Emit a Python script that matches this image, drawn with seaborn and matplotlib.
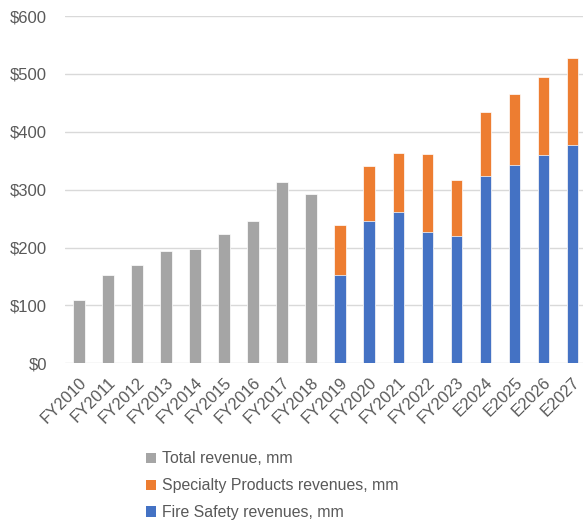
import matplotlib
matplotlib.use("Agg")
import matplotlib.pyplot as plt
import seaborn as sns
import numpy as np
import pandas as pd
from matplotlib.patches import Patch
from matplotlib.ticker import FuncFormatter

categories = ["FY2010", "FY2011", "FY2012", "FY2013", "FY2014", "FY2015", "FY2016",
              "FY2017", "FY2018", "FY2019", "FY2020", "FY2021", "FY2022", "FY2023",
              "E2024", "E2025", "E2026", "E2027"]
total_revenue = [110, 152, 169, 194, 198, 223, 245, 314, 292,
                 None, None, None, None, None, None, None, None, None]
fire_safety = [None] * 9 + [152, 245, 262, 227, 220, 324, 343, 360, 378]
specialty = [None] * 9 + [87, 95, 101, 134, 96, 111, 123, 135, 149]
series_labels = ["Total revenue, mm", "Specialty Products revenues, mm", "Fire Safety revenues, mm"]
colors = ["#A5A5A5", "#ED7D31", "#4472C4"]

df = pd.DataFrame({"cat": categories,
                   "total": pd.to_numeric(pd.Series(total_revenue), errors="coerce"),
                   "fire": pd.to_numeric(pd.Series(fire_safety), errors="coerce"),
                   "spec": pd.to_numeric(pd.Series(specialty), errors="coerce")})
df["stack_top"] = df["fire"] + df["spec"]

sns.set_theme(style="white")
plt.rcParams["font.family"] = ["Liberation Sans", "DejaVu Sans"]

fig = plt.figure(figsize=(5.83, 5.29), dpi=100)
ax = fig.add_axes([64.5 / 583, (529 - 363.3) / 529, (587 - 64.5) / 583, (363.3 - 16) / 529])

bw = 0.4
sns.barplot(data=df, x="cat", y="total", order=categories, color=colors[0], width=bw,
            saturation=1, ax=ax, edgecolor="white", linewidth=0.5, zorder=3)
sns.barplot(data=df, x="cat", y="stack_top", order=categories, color=colors[1], width=bw,
            saturation=1, ax=ax, edgecolor="white", linewidth=0.5, zorder=3)
sns.barplot(data=df, x="cat", y="fire", order=categories, color=colors[2], width=bw,
            saturation=1, ax=ax, edgecolor="white", linewidth=0.5, zorder=4)

ax.set_ylim(0, 600)
ax.set_xlim(-0.5, len(categories) - 0.5)
ax.set_yticks(np.arange(0, 601, 100))
ax.yaxis.set_major_formatter(FuncFormatter(lambda v, p: f"${int(v)}"))
ax.grid(axis="y", color="#D9D9D9", linewidth=1, zorder=0)
ax.set_axisbelow(True)
for s in ax.spines.values():
    s.set_visible(False)
ax.set_xlabel("")
ax.set_ylabel("")
ax.tick_params(axis="y", labelsize=12, labelcolor="#595959", length=0, pad=12.6)
ax.tick_params(axis="x", labelsize=11.8, labelcolor="#595959", length=0, pad=8)
plt.setp(ax.get_xticklabels(), rotation=45, ha="right", rotation_mode="anchor")

handles = [Patch(facecolor=c, edgecolor="none") for c in colors]
fig.legend(handles, series_labels, loc="upper left", bbox_to_anchor=(140 / 583, 1 - 445 / 529),
           frameon=False, fontsize=11.4, labelcolor="#595959", handlelength=0.62, handleheight=0.62,
           handletextpad=0.35, labelspacing=0.75, borderaxespad=0)

fig.savefig("out.png", dpi=100)
